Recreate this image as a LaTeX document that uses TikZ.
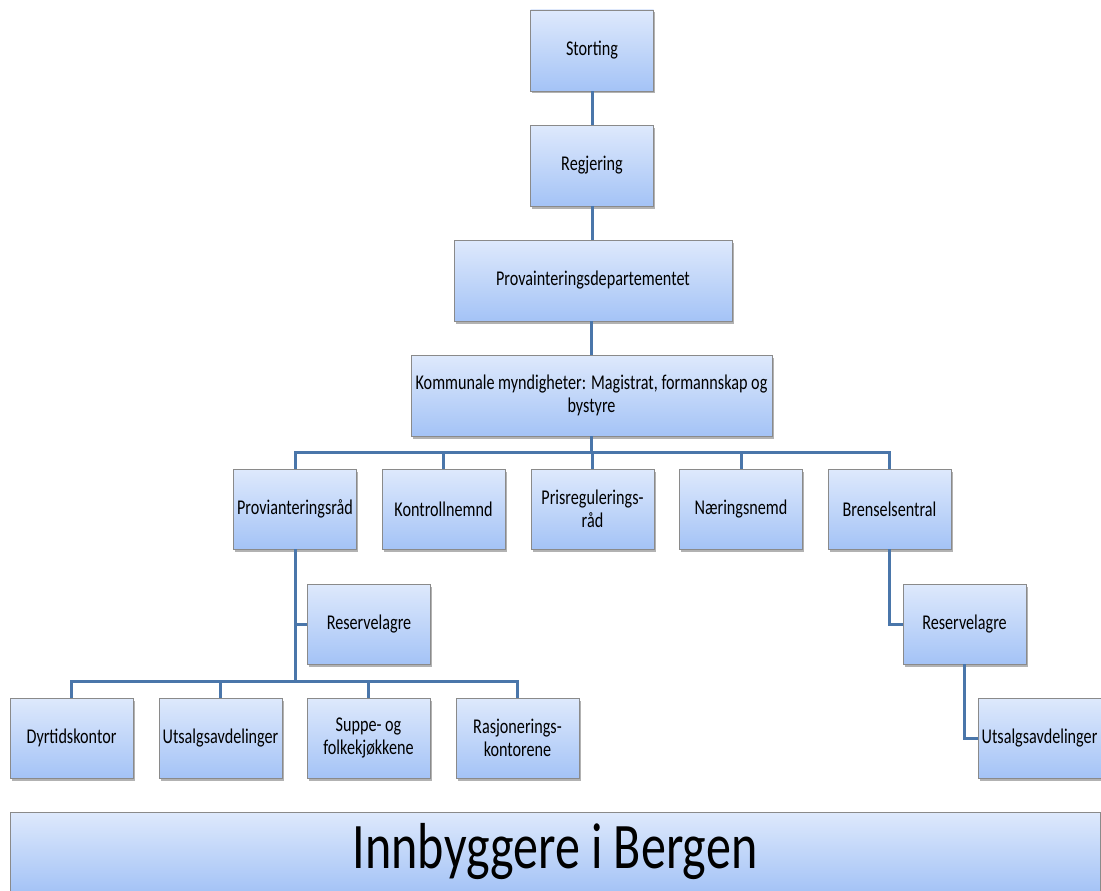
\documentclass[tikz,border=0pt]{standalone}
\usepackage{fontspec}
\setmainfont{Carlito}[FakeStretch=0.77]
\usetikzlibrary{shadows}
\definecolor{boxtop}{RGB}{222,233,252}
\definecolor{boxbot}{RGB}{164,195,246}
\definecolor{boxline}{RGB}{138,138,138}
\definecolor{conn}{RGB}{74,118,170}
\tikzset{
  orgbox/.style={draw=boxline, line width=0.8pt, top color=boxtop, bottom color=boxbot,
    minimum width=123pt, minimum height=81pt, inner sep=1pt, align=center,
    font=\fontsize{21}{23}\selectfont, text=black,
    drop shadow={shadow xshift=1.5pt, shadow yshift=-2.5pt, opacity=0.3, fill=black}},
  link/.style={draw=conn, line width=3pt}
}
\begin{document}
\begin{tikzpicture}[x=1pt,y=1pt]
\useasboundingbox (0,0) rectangle (1101,-891);
% top chain
\node[orgbox] (stor) at (592,-50.5) {Storting};
\node[orgbox] (regj) at (592,-165.5) {Regjering};
\node[orgbox, minimum width=278pt] (dep) at (593,-280.5) {Provainteringsdepartementet};
\node[orgbox, minimum width=361pt] (komm) at (591.5,-395.5) {Kommunale myndigheter: Magistrat, formannskap og\\bystyre};
% row
\node[orgbox, minimum height=80pt] (prov) at (295,-509) {Provianteringsråd};
\node[orgbox, minimum height=80pt] (kont) at (443.5,-509) {Kontrollnemnd};
\node[orgbox, minimum height=80pt] (pris) at (592.5,-509) {Prisregulerings-\\råd};
\node[orgbox, minimum height=80pt] (naer) at (741,-509) {Næringsnemd};
\node[orgbox, minimum height=80pt] (bren) at (889.5,-509) {Brenselsentral};
% left branch
\node[orgbox, minimum height=80pt] (res1) at (369,-624) {Reservelagre};
\node[orgbox, minimum height=80pt] (dyr) at (71.5,-738) {Dyrtidskontor};
\node[orgbox, minimum height=80pt] (uts1) at (220.5,-738) {Utsalgsavdelinger};
\node[orgbox, minimum height=80pt] (supp) at (368.5,-738) {Suppe- og\\folkekjøkkene};
\node[orgbox, minimum height=80pt] (rasj) at (517.5,-738) {Rasjonerings-\\kontorene};
% right branch
\node[orgbox, minimum height=80pt] (res2) at (964.5,-624) {Reservelagre};
\node[orgbox, minimum height=80pt] (uts2) at (1039.5,-738) {Utsalgsavdelinger};
% citizens
\node[orgbox, minimum width=1090pt, minimum height=80pt, font=\fontsize{65}{70}\selectfont] (innb) at (555,-852) {Innbyggere i Bergen};
% connectors
\coordinate (busA) at (591.5,-452.5);
\coordinate (busB) at (295,-681.5);
\draw[link] (stor) -- (regj);
\draw[link] (regj) -- (dep.north -| regj);
\draw[link] (dep.south -| komm) -- (komm.north);
\draw[link] (komm.south) -- (busA);
\draw[link] (prov.north) |- (busA) -| (bren.north);
\draw[link] (kont.north) -- (kont.north |- busA);
\draw[link] (pris.north) -- (pris.north |- busA);
\draw[link] (naer.north) -- (naer.north |- busA);
\draw[link] (prov.south) -- (busB);
\draw[link] (res1.west) -- (res1.west -| prov.south);
\draw[link] (dyr.north) |- (busB) -| (rasj.north);
\draw[link] (uts1.north) -- (uts1.north |- busB);
\draw[link] (supp.north) -- (supp.north |- busB);
\draw[link] (bren.south) |- (res2.west);
\draw[link] (res2.south) |- (uts2.west);
\end{tikzpicture}
\end{document}
